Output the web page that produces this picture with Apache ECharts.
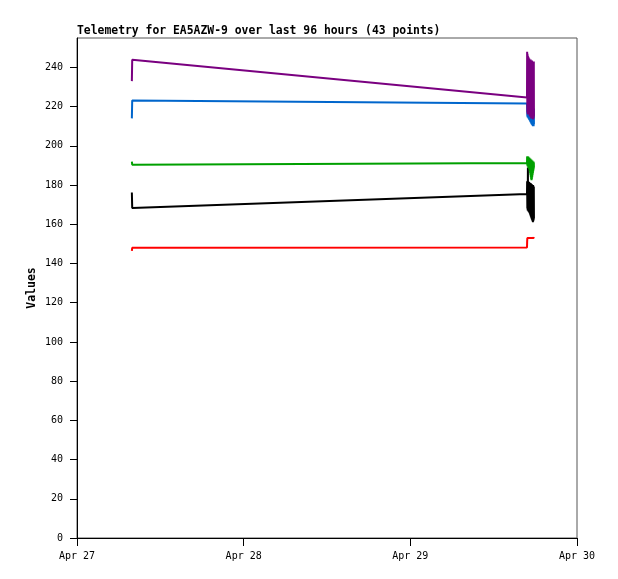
<!DOCTYPE html>
<html>
<head>
<meta charset="utf-8">
<script src="https://cdn.jsdelivr.net/npm/echarts@6/dist/echarts.min.js"></script>
<style>
  html, body { margin: 0; padding: 0; background: #fff; }
  #chart { width: 618px; height: 579px; }
</style>
</head>
<body>
<div id="chart"></div>
<script>
// hours since Apr 27 00:00
const hours = [7.90, 7.95,
  64.80, 64.82, 64.85, 64.87, 64.90, 64.93, 64.95, 64.98, 65.00,
  65.03, 65.05, 65.08, 65.10, 65.13, 65.15, 65.18, 65.20,
  65.23, 65.25, 65.28, 65.30, 65.33, 65.35, 65.38, 65.40,
  65.43, 65.45, 65.48, 65.50, 65.53, 65.55, 65.58, 65.60,
  65.63, 65.65, 65.68, 65.70, 65.73, 65.75, 65.78, 65.80]

const purple = [233.0, 243.9,
  224.7, 248, 217, 247, 216, 246, 217, 245.5, 216,
  245, 217, 244, 216, 244.5, 216, 244, 215,
  244, 216, 243.5, 215, 244, 215, 243.5, 214,
  243.5, 215, 243, 214, 243.5, 214, 243, 214,
  243, 213.5, 243, 214, 242.5, 214, 243, 215]

const blue = [214.0, 223.1,
  221.6, 221, 215, 221, 214.5, 221, 215, 220.5, 214,
  221, 214, 220.5, 213.5, 220.5, 213, 220, 213,
  220.5, 212.5, 220, 212, 220, 212, 219.5, 211.5,
  220, 211, 219.5, 211, 219.5, 210.5, 219, 210.5,
  219.5, 210, 219, 210, 219, 210, 219, 211]

const green = [192.0, 190.4,
  191.2, 194.5, 190, 194.7, 189.5, 194, 190, 194.5, 189,
  194, 188.5, 193.5, 189, 194, 188, 193.5, 187,
  193, 186, 193.5, 185, 193, 184, 192.5, 183,
  193, 182.5, 192.5, 183, 192, 184, 192.5, 185,
  192, 186, 191.5, 187, 192, 188, 191.5, 189]

const black = [176.2, 168.3,
  175.5, 182, 168, 181.5, 167, 189, 167.5, 182, 166.5,
  181.5, 167, 181, 166, 181.5, 166.5, 181, 165.5,
  181, 165, 180.5, 164.5, 181, 164, 180.5, 163.5,
  180, 163, 180.5, 162.5, 180, 162, 180, 161.5,
  179.5, 161, 180, 161.5, 179.5, 162, 179, 163]

const red = [146.4, 148.0,
  148.2, 151, 153, 153.5, 153, 153.5, 153, 153.5, 153,
  153.5, 153, 153.5, 153, 153.5, 153, 153.5, 153,
  153.5, 153, 153.5, 153, 153.5, 153, 153.5, 153,
  153.5, 153, 153.5, 153, 153.5, 153, 153.5, 153,
  153.5, 153, 153.5, 153, 153.5, 153, 153.5, 153]

const xLabels = ['Apr 27', 'Apr 28', 'Apr 29', 'Apr 30']
const yTicks = [0, 20, 40, 60, 80, 100, 120, 140, 160, 180, 200, 220, 240]

const font = 'DejaVu Sans Mono'

function pairs(vals) {
  return vals.map((v, i) => [hours[i], v])
}

function line(vals, color) {
  return {
    type: 'line',
    data: pairs(vals),
    showSymbol: false,
    lineStyle: { color: color, width: 2 },
    itemStyle: { color: color }
  }
}

const myChart = echarts.init(document.getElementById('chart'))

myChart.setOption({
  animation: false,
  backgroundColor: '#fff',
  title: {
    text: 'Telemetry for EA5AZW-9 over last 96 hours (43 points)',
    left: 77,
    top: 26,
    padding: 0,
    textStyle: { fontFamily: font, fontSize: 11.4, fontWeight: 'bold', color: '#000' }
  },
  grid: {
    left: 77,
    right: 41,
    top: 38,
    bottom: 41,
    show: true,
    borderColor: '#555',
    borderWidth: 1
  },
  xAxis: {
    type: 'value',
    min: 0,
    max: 72,
    interval: 24,
    axisLine: { lineStyle: { color: '#000', width: 1 } },
    axisTick: { length: 8, lineStyle: { color: '#000' } },
    axisLabel: {
      margin: 13,
      color: '#000',
      fontFamily: font,
      fontSize: 10,
      formatter: v => xLabels[Math.round(v / 24)]
    },
    splitLine: { show: false }
  },
  yAxis: {
    type: 'value',
    min: 0,
    max: 255,
    name: 'Values',
    nameLocation: 'middle',
    nameGap: 39,
    nameMoveOverlap: false,
    nameTextStyle: { fontFamily: font, fontSize: 11.5, fontWeight: 'bold', color: '#000' },
    axisLine: { show: true, lineStyle: { color: '#000', width: 1 } },
    axisTick: { show: true, length: 7, customValues: yTicks, lineStyle: { color: '#000' } },
    axisLabel: {
      margin: 14,
      color: '#000',
      fontFamily: font,
      fontSize: 10,
      customValues: yTicks
    },
    splitLine: { show: false }
  },
  series: [
    line(red, '#ff0000'),
    line(black, '#000000'),
    line(green, '#00a000'),
    line(blue, '#0066cc'),
    line(purple, '#7a0080')
  ]
})
</script>
</body>
</html>
